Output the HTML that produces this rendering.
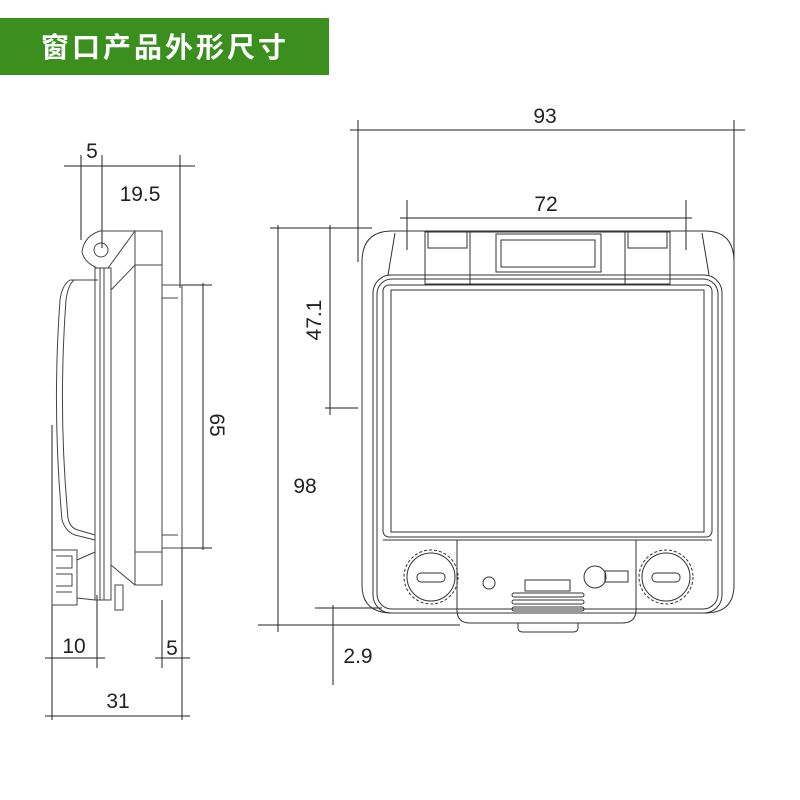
<!DOCTYPE html>
<html><head><meta charset="utf-8"><style>
html,body{margin:0;padding:0;background:#fff;}
svg{display:block}
text{font-family:"Liberation Sans",sans-serif;fill:#222}
</style></head><body>
<svg width="800" height="800" viewBox="0 0 800 800" xmlns="http://www.w3.org/2000/svg">
<rect x="0" y="18" width="329" height="57" fill="#3b8f1f"/>
<text x="165" y="57" text-anchor="middle" style="font-family:'Liberation Sans','Noto Sans CJK SC',sans-serif;font-weight:bold;font-size:28px;fill:#fff;letter-spacing:3px">窗口产品外形尺寸</text>

<g stroke="#222" stroke-width="1" fill="none">
<line x1="350" y1="130" x2="745" y2="130"/>
<line x1="358" y1="120" x2="358" y2="262"/>
<line x1="734" y1="120" x2="734" y2="262"/>
<line x1="400" y1="218" x2="692" y2="218"/>
<line x1="407" y1="200" x2="407" y2="250"/>
<line x1="686" y1="200" x2="686" y2="250"/>
<line x1="278" y1="225" x2="278" y2="632"/>
<line x1="270" y1="228" x2="372" y2="228"/>
<line x1="258" y1="625" x2="460" y2="625"/>
<line x1="330" y1="225" x2="330" y2="415"/>
<line x1="325" y1="408" x2="358" y2="408"/>
<line x1="333" y1="605" x2="333" y2="685"/>
<line x1="315" y1="608" x2="382" y2="608"/>
<line x1="64" y1="166" x2="195" y2="166"/>
<line x1="81" y1="155" x2="81" y2="240"/>
<line x1="102" y1="155" x2="102" y2="248"/>
<line x1="180" y1="155" x2="180" y2="288"/>
<line x1="203" y1="283" x2="203" y2="550"/>
<line x1="182" y1="285" x2="212" y2="285"/>
<line x1="182" y1="548" x2="212" y2="548"/>
<line x1="45" y1="658" x2="105" y2="658"/>
<line x1="52" y1="425" x2="52" y2="720"/>
<line x1="97" y1="595" x2="97" y2="668"/>
<line x1="155" y1="658" x2="190" y2="658"/>
<line x1="162" y1="600" x2="162" y2="668"/>
<line x1="182" y1="548" x2="182" y2="720"/>
<line x1="45" y1="716" x2="190" y2="716"/>
</g>

<g font-size="21">
<text x="545" y="123" text-anchor="middle">93</text>
<text x="546" y="211" text-anchor="middle">72</text>
<text x="305" y="493" text-anchor="middle">98</text>
<text x="358" y="663" text-anchor="middle">2.9</text>
<text transform="translate(321,320) rotate(-90)" text-anchor="middle">47.1</text>
<text transform="translate(210,425) rotate(90)" text-anchor="middle">65</text>
<text x="92" y="158" text-anchor="middle">5</text>
<text x="140" y="201" text-anchor="middle">19.5</text>
<text x="74" y="653" text-anchor="middle">10</text>
<text x="172" y="655" text-anchor="middle">5</text>
<text x="118" y="708" text-anchor="middle">31</text>
</g>

<g stroke="#333" stroke-width="1" fill="none">
<path d="M392 231 H705 Q734 231 734 262 V585 Q734 613 705 613 H392 Q362 613 362 585 V262 Q362 231 392 231 Z"/>
<path d="M395 233 L388 275 M702 233 L709 275"/>
<rect x="373" y="275" width="349" height="338" rx="18"/>
<rect x="377" y="279" width="341" height="330" rx="15"/>
<rect x="383" y="285" width="329" height="252" rx="6"/>
<rect x="391" y="290" width="313" height="242"/>
<line x1="383" y1="540" x2="712" y2="540"/>
<rect x="425" y="232" width="45" height="52"/>
<rect x="428" y="232" width="39" height="16"/>
<rect x="625" y="232" width="45" height="52"/>
<rect x="628" y="232" width="39" height="16"/>
<rect x="470" y="232" width="155" height="52"/>
<rect x="496" y="234" width="105" height="38"/>
<rect x="501" y="240" width="94" height="27"/>
<path d="M457 540 V610 Q457 623 470 623 H622 Q636 623 636 610 V540"/>
<path d="M518 623 V628 Q518 632 523 632 H573 Q578 632 578 628 V623"/>
<circle cx="431" cy="577" r="27" stroke-dasharray="3 2"/>
<circle cx="431" cy="577" r="24"/>
<rect x="417" y="573" width="28" height="9" rx="4"/>
<circle cx="666" cy="577" r="27" stroke-dasharray="3 2"/>
<circle cx="666" cy="577" r="24"/>
<rect x="652" y="573" width="28" height="9" rx="4"/>
<circle cx="489" cy="583" r="6"/>
<rect x="525" y="580" width="45" height="11"/>
<rect x="512" y="593" width="72" height="4" rx="2"/>
<rect x="512" y="600" width="72" height="4" rx="2"/>
<rect x="512" y="607" width="72" height="4" rx="2"/>
<circle cx="595" cy="577" r="11"/>
<rect x="605" y="571" width="23" height="11"/>
</g>

<g stroke="#444" stroke-width="1" fill="none">
<rect x="135" y="231" width="27" height="354"/>
<line x1="135" y1="265" x2="162" y2="265"/>
<line x1="135" y1="552" x2="162" y2="552"/>
<rect x="162" y="285" width="20" height="263"/>
<line x1="162" y1="298" x2="178" y2="298"/>
<line x1="162" y1="535" x2="178" y2="535"/>
<path d="M135 231 H100 Q84 236 82 252 Q84 262 97 268 H108 L135 231"/>
<circle cx="101" cy="250" r="7"/>
<rect x="95" y="268" width="16" height="332"/>
<line x1="100" y1="268" x2="100" y2="600"/>
<line x1="104" y1="268" x2="104" y2="600"/>
<path d="M111 290 L135 265 M111 565 L135 585"/>
<path d="M95 280 H70 Q62 285 60 300 Q52 410 62 520 Q66 532 75 535 L95 540"/>
<path d="M98 280 H74 Q68 285 66 300 Q58 410 68 518 Q70 528 78 530 L95 535"/>
<rect x="52" y="550" width="25" height="55"/>
<path d="M56 556 H72 V568 H56 M56 574 H72 V586 H56 M56 592 H72"/>
<path d="M77 560 L95 552 M77 598 L95 600"/>
<rect x="115" y="585" width="8" height="25"/>
</g>
</svg>
</body></html>
